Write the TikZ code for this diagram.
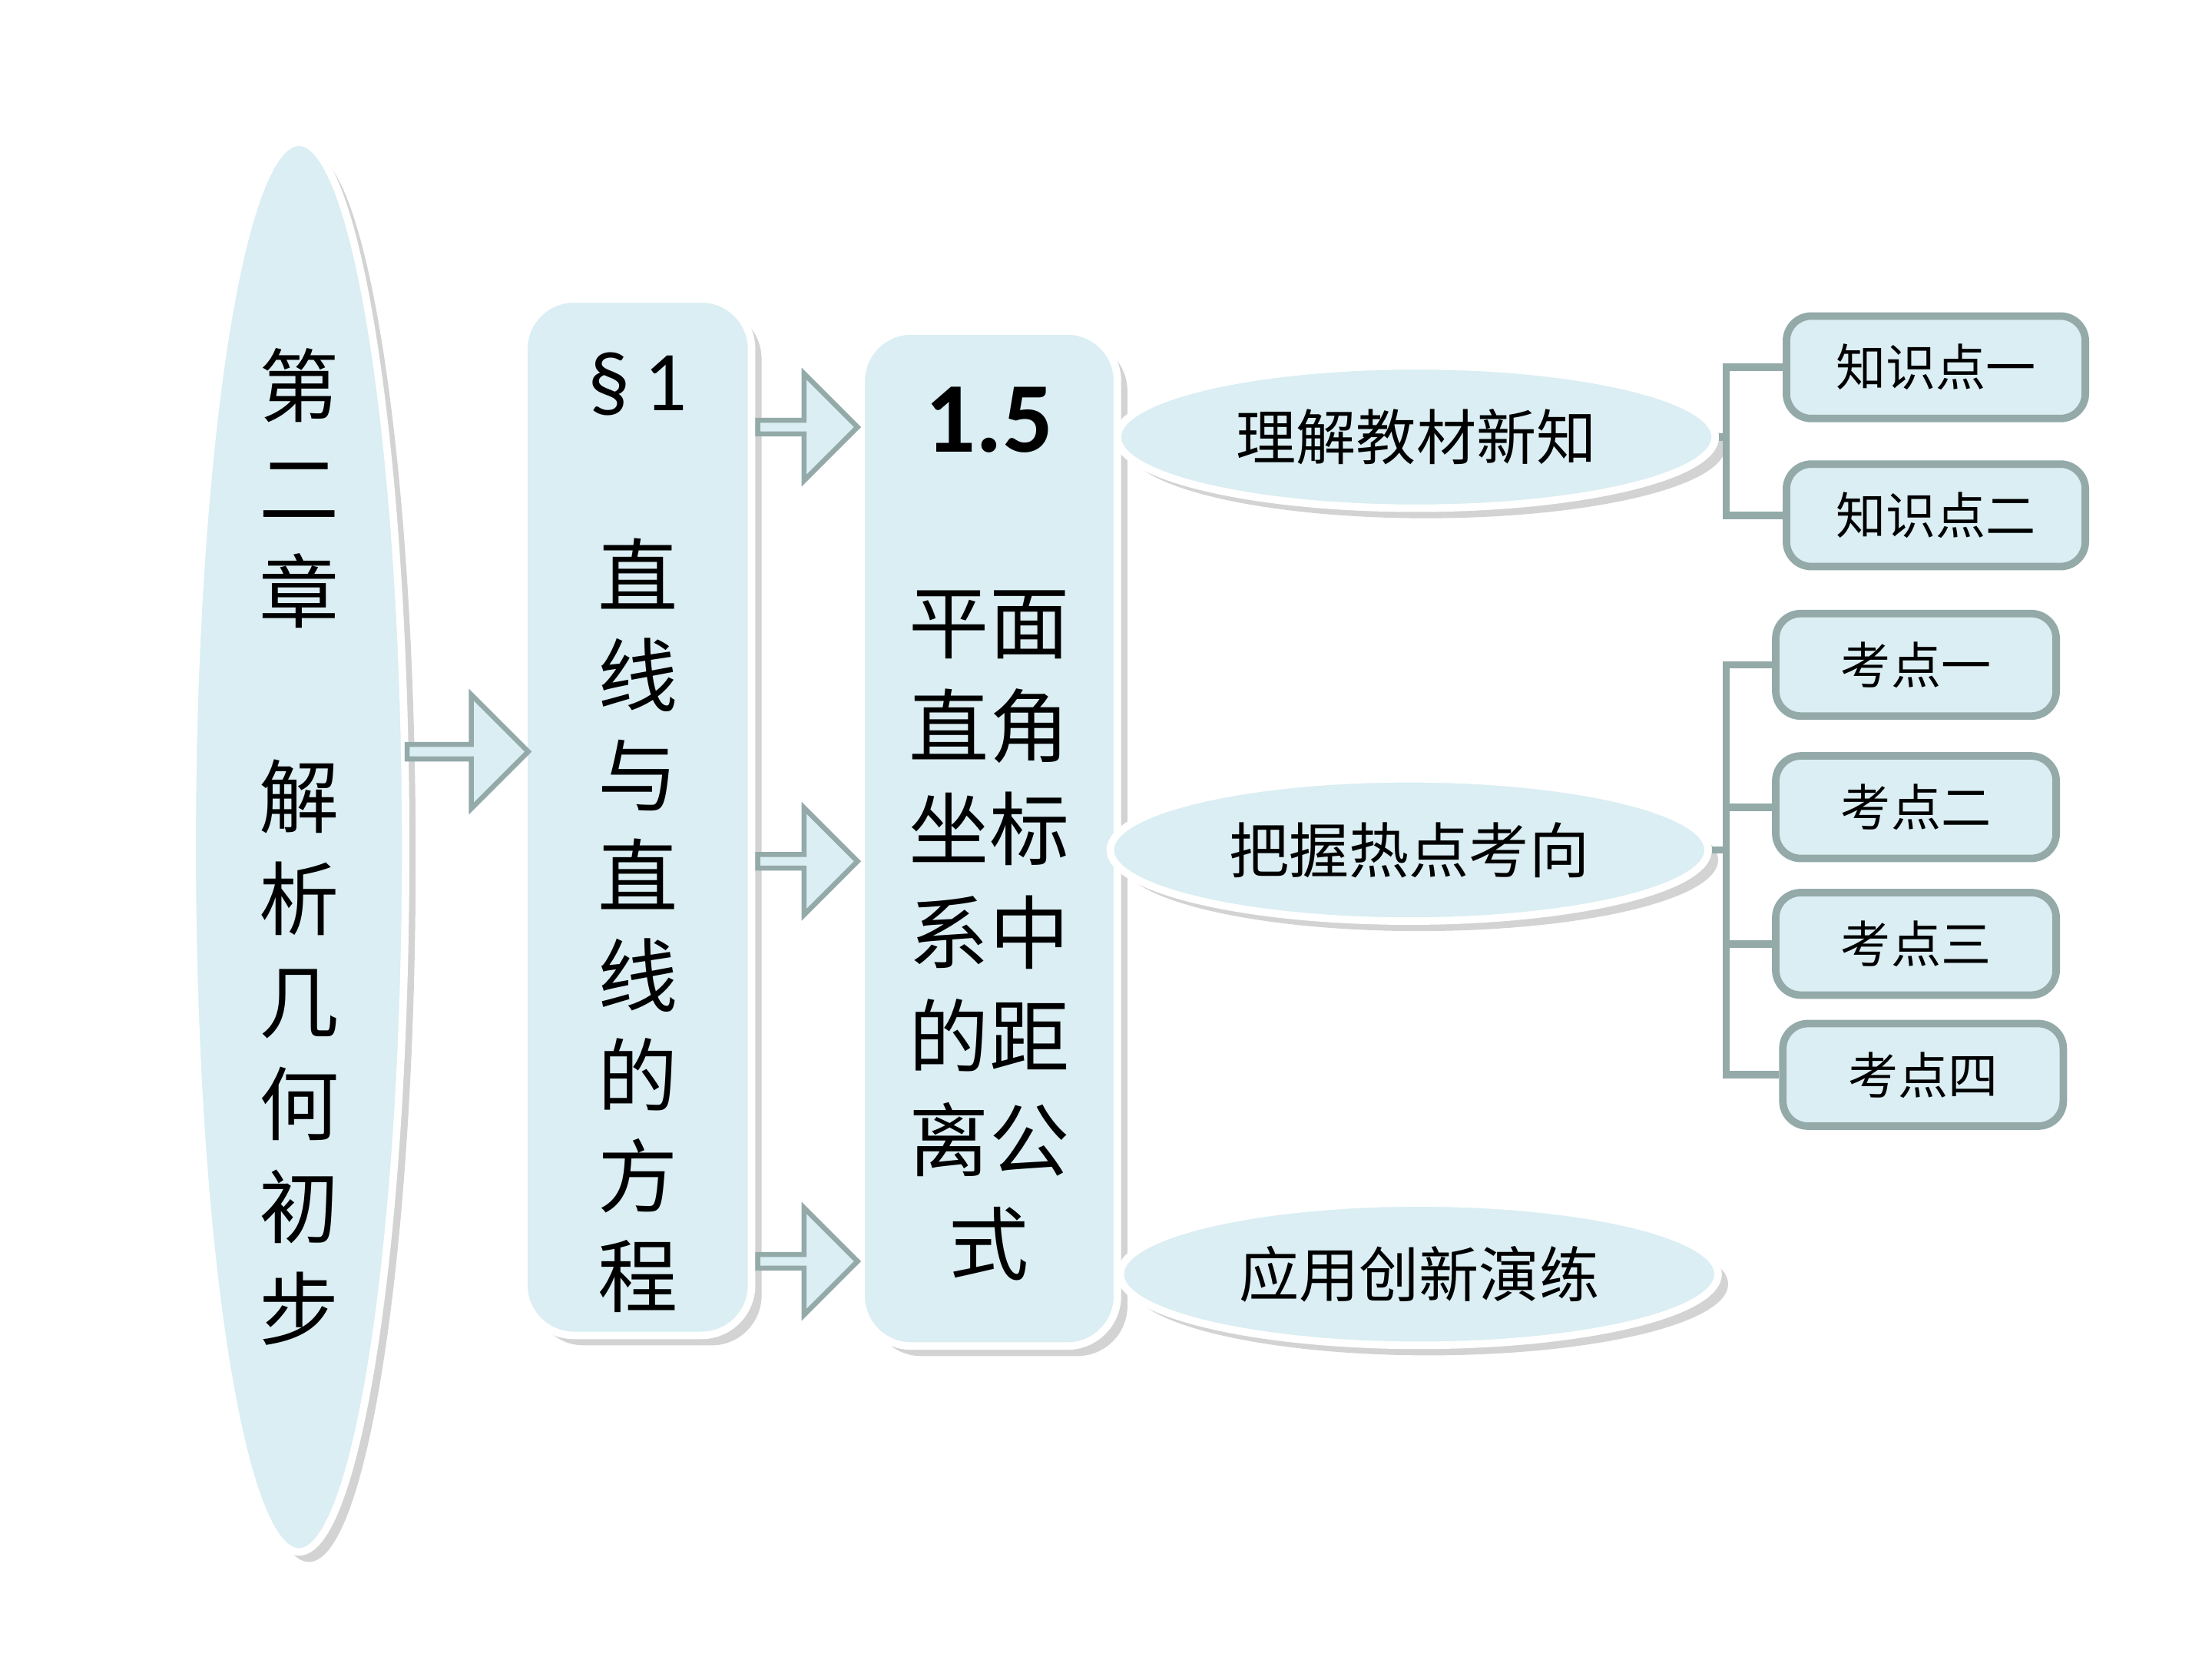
\documentclass[tikz,border=0pt]{standalone}
\usepackage{fontspec}
\setmainfont{Carlito}
\newfontfamily\cjk{Noto Sans CJK SC}[Scale=1]
\usetikzlibrary{positioning}
\usetikzlibrary{shapes.geometric}
\usetikzlibrary{shapes.arrows}
\usetikzlibrary{shadows}
\definecolor{paleblue}{HTML}{DAEEF3}
\definecolor{rimgray}{HTML}{93AAA9}
\tikzset{
  bigshape/.style = {draw=white, line width=1.5pt, fill=paleblue, drop shadow={opacity=0.35,shadow xshift=2pt,shadow yshift=-2pt}},
  topic/.style    = {bigshape, ellipse, minimum width=4.2cm, minimum height=1cm, font=\cjk\fontsize{12}{14}\selectfont},
  point/.style    = {draw=rimgray, line width=1.5pt, fill=paleblue, rounded corners=5pt, minimum height=0.72cm, font=\cjk\fontsize{10}{12}\selectfont},
  fatArrow/.style = {single arrow, draw=rimgray, fill=paleblue, line width=1pt, single arrow head extend=0.12cm, inner sep=0pt},
  brace/.style    = {draw=rimgray, line width=1.5pt}
}
\begin{document}
\begin{tikzpicture}
            \useasboundingbox (0,0) rectangle (15.54,11.66);
            \node at (2.10,5.71)  [bigshape,ellipse,minimum width=1.5cm,minimum height=8.8cm,inner sep=0pt,align=center,font=\cjk\fontsize{16}{20.5}\selectfont] (nChap) {第\\二\\章\\[20.5pt]解\\析\\几\\何\\初\\步};
            \node at (4.48,5.92)  [bigshape,rounded corners=10pt,minimum width=1.6cm,minimum height=7.28cm] (nSec) {};
            \node at (6.95,5.77)  [bigshape,rounded corners=10pt,minimum width=1.8cm,minimum height=7.13cm] (nLes) {};
            \node at (4.48,8.96)  [font=\fontsize{17}{20}\selectfont] (nSecNo) {\S\,1};
            \node at (4.48,5.16)  [align=center,font=\cjk\fontsize{16}{20}\selectfont] (nSecTxt) {直\\线\\与\\直\\线\\的\\方\\程};
            \node at (6.95,8.71)  [font=\bfseries\fontsize{20}{24}\selectfont] (nLesNo) {1.5};
            \node at (6.95,5.09)  [align=center,font=\cjk\fontsize{16}{20.7}\selectfont] (nLesTxt) {平面\\直角\\坐标\\系中\\的距\\离公\\式};
            \node at (3.26,6.38)  [fatArrow,minimum width=0.8cm,minimum height=0.85cm] (nArr0) {};
            \node at (5.65,8.66)  [fatArrow,minimum width=0.75cm,minimum height=0.7cm] (nArr1) {};
            \node at (5.65,5.61)  [fatArrow,minimum width=0.75cm,minimum height=0.7cm] (nArr2) {};
            \node at (5.65,2.80)  [fatArrow,minimum width=0.75cm,minimum height=0.7cm] (nArr3) {};
            \node at (9.95,8.59)  [topic] (nNew)  {理解教材新知};
            \node at (9.90,5.69)  [topic] (nHot)  {把握热点考向};
            \node at (9.97,2.71)  [topic] (nUse)  {应用创新演练};
            \node at (13.60,9.08) [point,minimum width=2.1cm] (nK1) {知识点一};
            \node at (13.60,8.04) [point,minimum width=2.1cm] (nK2) {知识点二};
            \node at (13.46,6.99) [point,minimum width=1.97cm] (nC1) {考点一};
            \node at (13.46,5.99) [point,minimum width=1.97cm] (nC2) {考点二};
            \node at (13.46,5.03) [point,minimum width=1.97cm] (nC3) {考点三};
            \node at (13.51,4.11) [point,minimum width=1.97cm] (nC4) {考点四};
            \draw[brace] (nNew.east) -- ++(0.05,0) coordinate (bA) |- (nK1.west);
            \draw[brace] (bA) |- (nK2.west);
            \draw[brace] (nHot.east) -- ++(0.1,0) coordinate (bB) |- (nC1.west);
            \draw[brace] (bB) |- (nC2.west);
            \draw[brace] (bB) |- (nC3.west);
            \draw[brace] (bB) |- (nC4.west);
        \end{tikzpicture}
\end{document}
